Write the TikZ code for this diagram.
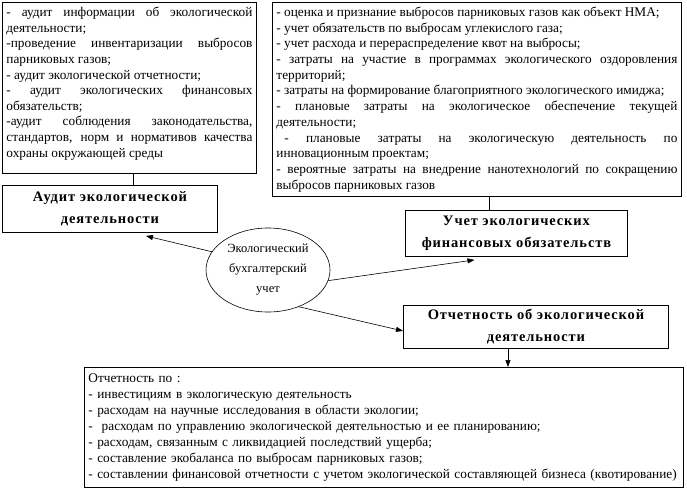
\documentclass[tikz,border=0pt]{standalone}
\usepackage{fontspec}
\setmainfont{Liberation Serif}
\usetikzlibrary{arrows.meta,positioning,shapes.geometric}

\begin{document}
\begin{tikzpicture}[x=1pt,y=-1pt,
  listbox/.style={draw,line width=0.9pt,anchor=north west,align=justify,
                  inner xsep=4pt,inner ysep=3pt},
  headbox/.style={draw,line width=0.9pt,anchor=north west,align=center,
                  font=\fontsize{14.5}{22}\selectfont\bfseries\addfontfeatures{LetterSpace=6}},
  >={Triangle[length=7pt,width=5pt]}]
\useasboundingbox (0,0) rectangle (687,489);
% lists of items
\node[listbox,text width=246pt,minimum height=171pt,
      font=\fontsize{13.3}{15.6}\selectfont] (auditlist) at (2,2)
  {- аудит информации об экологической деятельности;\\
   -проведение инвентаризации выбросов парниковых газов;\\
   - аудит экологической отчетности;\\
   - аудит экологических финансовых обязательств;\\
   -аудит соблюдения законодательства, стандартов, норм и нормативов качества охраны окружающей среды\\[-4pt]\mbox{}};
\node[listbox,text width=401pt,minimum height=194pt,
      font=\fontsize{13.3}{15.7}\selectfont] (ecolist) at (272,2)
  {- оценка и признание выбросов парниковых газов как объект НМА;\\
   - учет обязательств по выбросам углекислого газа;\\
   - учет расхода и перераспределение квот на выбросы;\\
   - затраты на участие в программах экологического оздоровления территорий;\\
   - затраты на формирование благоприятного экологического имиджа;\\
   - плановые затраты на экологическое обеспечение текущей деятельности;\\
   \hspace*{8pt}- плановые затраты на экологическую деятельность по инновационным проектам;\\
   - вероятные затраты на внедрение нанотехнологий по сокращению выбросов парниковых газов};
% headings
\node[headbox,minimum width=215pt,minimum height=47pt] (audit) at (2,185)
  {Аудит экологической\\деятельности};
\node[headbox,minimum width=222pt,minimum height=46pt] (uchet) at (405,210)
  {Учет экологических\\финансовых обязательств};
\node[headbox,minimum width=265pt,minimum height=43pt] (otchet) at (403,305)
  {Отчетность об экологической\\деятельности};
\node[ellipse,draw,line width=0.6pt,minimum width=124pt,minimum height=84pt,
      inner sep=0pt,align=center,font=\fontsize{12.5}{20}\selectfont] (buh) at (268,270)
  {Экологический\\бухгалтерский\\учет};
\node[listbox,align=left,text width=591pt,minimum height=120pt,
      font=\fontsize{13.3}{16}\selectfont] (report) at (84,367)
  {Отчетность по :\\
   - инвестициям в экологическую деятельность\\
   - расходам на научные исследования в области экологии;\\
   -\ \ расходам по управлению экологической деятельностью и ее планированию;\\
   - расходам, связанным с ликвидацией последствий ущерба;\\
   - составление экобаланса по выбросам парниковых газов;\\
   - составлении финансовой отчетности с учетом экологической составляющей бизнеса (квотирование)};
% connectors
\draw[line width=0.6pt] ([xshift=4pt]auditlist.south) -- ([xshift=4pt]auditlist.south |- audit.north);
\draw[line width=0.6pt] ([xshift=12pt]ecolist.south) -- ([xshift=12pt]ecolist.south |- uchet.north);
\draw[->,line width=0.6pt] (buh.162) -- ([xshift=36pt,yshift=-3pt]audit.south);
\draw[->,line width=0.6pt] (buh.-10) -- ([xshift=-42pt,yshift=-3pt]uchet.south);
\draw[->,line width=0.6pt] (buh.-50) -- ([yshift=-4pt]otchet.west);
\draw[->,line width=0.6pt] ([xshift=-28pt]otchet.south) -- ([xshift=-28pt]otchet.south |- report.north);
\end{tikzpicture}
\end{document}
